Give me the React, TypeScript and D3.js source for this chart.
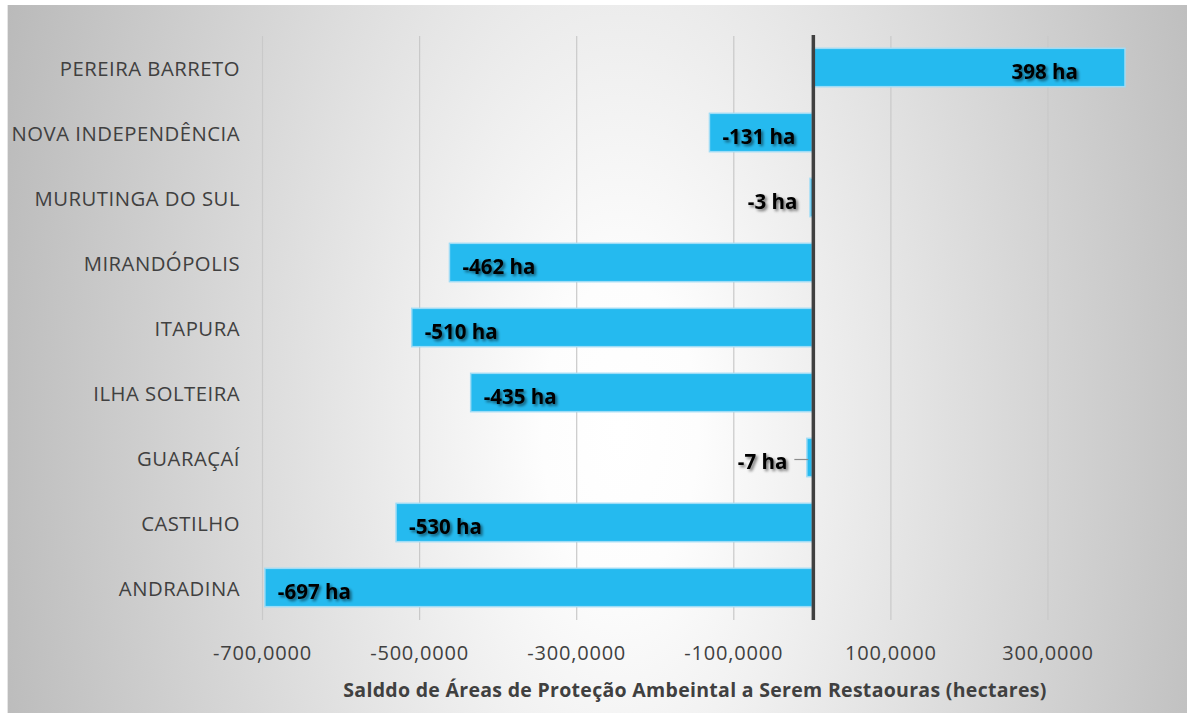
import React from "react";
import * as d3 from "d3";

const categories = [
  "PEREIRA BARRETO",
  "NOVA INDEPENDÊNCIA",
  "MURUTINGA DO SUL",
  "MIRANDÓPOLIS",
  "ITAPURA",
  "ILHA SOLTEIRA",
  "GUARAÇAÍ",
  "CASTILHO",
  "ANDRADINA",
];
const values = [398, -131, -3, -462, -510, -435, -7, -530, -697];
const tickValues = [-700, -500, -300, -100, 100, 300];
const leaderCategories = ["GUARAÇAÍ"];
const axisTitle = "Salddo de Áreas de Proteção Ambeintal a Serem Restaouras (hectares)";

const W = 1187;
const H = 713;
const FONT = "'Open Sans', 'DejaVu Sans', sans-serif";

function fmtTick(v: number) {
  const s = Math.abs(v).toFixed(4).replace(".", ",");
  return (v < 0 ? "-" : "") + s;
}

export default function App() {
  const x = d3.scaleLinear().domain([-700, 300]).range([262.5, 1048]);
  const y = d3
    .scaleBand<string>()
    .domain(categories)
    .range([35, 620])
    .paddingInner(0.41)
    .paddingOuter(0.205);
  const x0 = x(0);
  const bw = y.bandwidth();

  return (
    <div style={{ position: "absolute", left: 0, top: 0 }}>
      <svg width={W} height={H} style={{ display: "block" }}>
        <defs>
          <radialGradient
            id="bg"
            gradientUnits="userSpaceOnUse"
            cx={0}
            cy={0}
            r={1}
            gradientTransform="translate(620,430) scale(650,1250)"
          >
            <stop offset="0" stopColor="#ffffff" />
            <stop offset="0.12" stopColor="#fdfdfd" />
            <stop offset="1" stopColor="#bababa" />
          </radialGradient>
          <filter id="shadow" x="-20%" y="-40%" width="140%" height="180%">
            <feGaussianBlur in="SourceAlpha" stdDeviation="1.4" />
            <feOffset dx="1.5" dy="1.5" result="b" />
            <feComponentTransfer>
              <feFuncA type="linear" slope="0.55" />
            </feComponentTransfer>
            <feMerge>
              <feMergeNode />
              <feMergeNode in="SourceGraphic" />
            </feMerge>
          </filter>
        </defs>
        <rect x={0} y={0} width={W} height={H} fill="#ffffff" />
        <rect x={8} y={5} width={W - 8} height={H - 5} fill="url(#bg)" />
        <line x1={7.5} x2={7.5} y1={5} y2={H} stroke="#e6e6e6" strokeWidth={1} />

        {/* gridlines */}
        {tickValues.map((t) => (
          <line
            key={"g" + t}
            x1={x(t)}
            x2={x(t)}
            y1={36}
            y2={620}
            stroke="#c9c9c9"
            strokeWidth={1.2}
          />
        ))}

        {/* bars */}
        {categories.map((c, i) => {
          const v = values[i];
          const xa = Math.min(x(v), x0);
          const xb = Math.max(x(v), x0);
          return (
            <rect
              key={"b" + c}
              x={xa}
              y={y(c)!}
              width={Math.max(xb - xa, 1)}
              height={bw}
              fill="#25BAEF"
              stroke="#9fdcf6"
              strokeWidth={1.5}
            />
          );
        })}

        {/* zero line */}
        <line x1={x0 + 1} x2={x0 + 1} y1={35} y2={620} stroke="#404040" strokeWidth={3.5} />

        {/* data labels */}
        {categories.map((c, i) => {
          const v = values[i];
          const cy = y(c)! + bw / 2 + 3;
          const label = `${v} ha`;
          let lx: number;
          let anchor: "start" | "end" = "start";
          const hasLeader = leaderCategories.includes(c);
          if (v > 0) {
            lx = x(v) - 47;
            anchor = "end";
          } else if (Math.abs(v) < 20) {
            lx = x0 - (hasLeader ? 25 : 15);
            anchor = "end";
          } else {
            lx = x(v) + 13;
          }
          return (
            <g key={"l" + c}>
              {hasLeader && (
                <line
                  x1={x0 - 18}
                  x2={x0 - 4}
                  y1={cy - 1}
                  y2={cy - 1}
                  stroke="#8c8c8c"
                  strokeWidth={1.2}
                />
              )}
              <text
                x={lx}
                y={cy}
                textAnchor={anchor}
                dominantBaseline="central"
                fontFamily={FONT}
                fontWeight={700}
                fontSize={20.5}
                fill="#000000"
                filter="url(#shadow)"
              >
                {label}
              </text>
            </g>
          );
        })}

        {/* category labels */}
        {categories.map((c) => (
          <text
            key={"c" + c}
            x={240}
            y={y(c)! + bw / 2}
            textAnchor="end"
            dominantBaseline="central"
            fontFamily={FONT}
            fontSize={20.3}
            letterSpacing={0.5}
            fill="#404040"
          >
            {c}
          </text>
        ))}

        {/* tick labels */}
        {tickValues.map((t) => (
          <text
            key={"t" + t}
            x={x(t)}
            y={652}
            textAnchor="middle"
            dominantBaseline="central"
            fontFamily={FONT}
            fontSize={20}
            letterSpacing={0.8}
            fill="#404040"
          >
            {fmtTick(t)}
          </text>
        ))}

        {/* axis title */}
        <text
          x={695}
          y={689}
          textAnchor="middle"
          dominantBaseline="central"
          fontFamily={FONT}
          fontWeight={700}
          fontSize={19.5}
          letterSpacing={0.3}
          fill="#404040"
        >
          {axisTitle}
        </text>
      </svg>
    </div>
  );
}
